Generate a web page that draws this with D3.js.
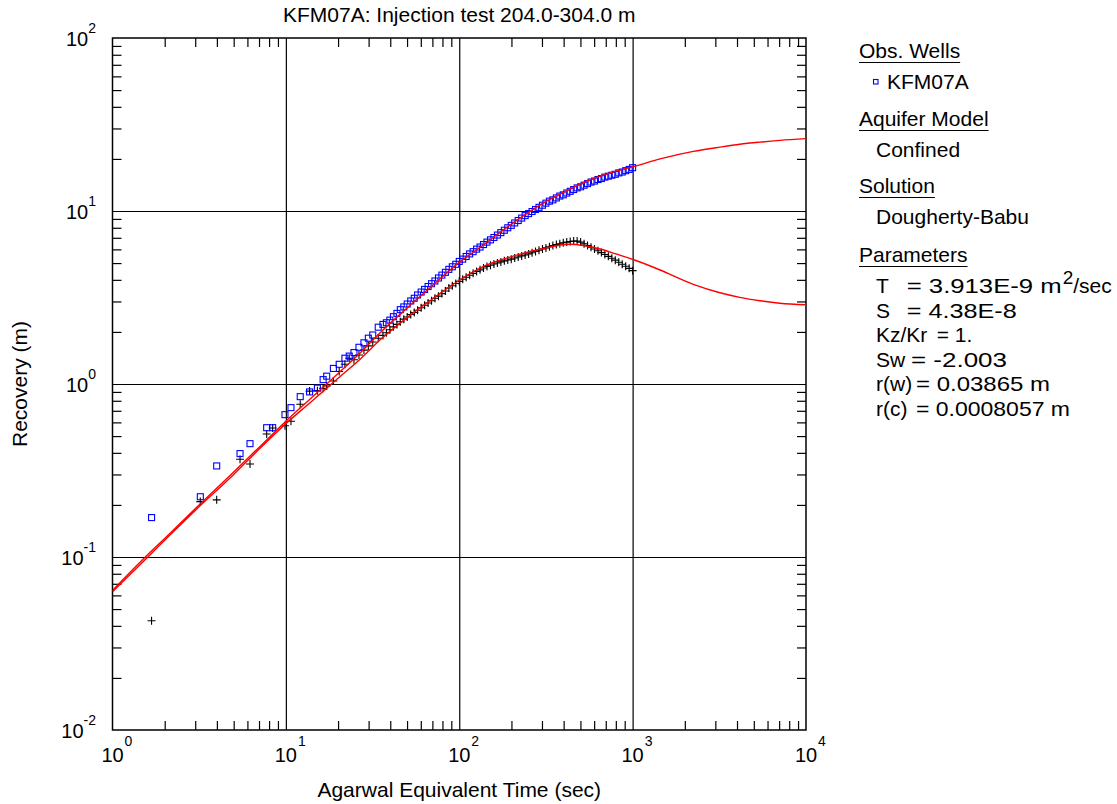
<!DOCTYPE html>
<meta charset="utf-8">
<title>KFM07A recovery</title>
<style>
    body { margin: 0; background: #fff; }
    svg text { font-family: Arial, "Liberation Sans", sans-serif; fill: #000; }
</style>
<body>
<script src="https://d3js.org/d3.v7.min.js"></script>
<script>
    var width = 1117, height = 804;

    // observed data, time (sec)
    var timeSec = [1.68, 3.21, 3.99, 5.44, 6.21, 7.75, 8.39, 9.88, 10.7, 12.1, 13.7, 15.2, 16.4, 17.2, 18.8,
        20.3, 21.9, 23.2, 24.7, 26.4, 28.2, 29.9, 31.7, 34.1,
        36.3, 38.0, 39.8, 41.7, 43.7, 45.7, 47.9, 50.1, 52.5, 55.0, 57.5, 60.3, 63.1, 66.1, 69.2, 72.4,
        75.9, 79.4, 83.2, 87.1, 91.2, 95.5, 100, 104.7, 109.6, 114.8, 120.2, 125.9, 131.8, 138.0, 144.5,
        151.4, 158.5, 166.0, 173.8, 182.0, 190.5, 199.5, 208.9, 218.8, 229.1, 239.9, 251.2, 263.0, 275.4,
        288.4, 302.0, 316.2, 331.1, 346.7, 363.1, 380.2, 398.1, 416.9, 436.5, 457.1, 478.6, 501.2, 524.8,
        549.5, 575.4, 602.6, 631.0, 660.7, 691.8, 724.4, 758.6, 794.3, 831.8, 871.0, 912.0, 955.0, 1000];

    // recovery (m), blue squares
    var recovery = [0.169, 0.223, 0.336, 0.396, 0.452, 0.559, 0.559, 0.665, 0.730, 0.845, 0.90, 0.946, 1.06, 1.11, 1.23,
        1.30, 1.41, 1.45, 1.52, 1.63, 1.73, 1.84, 1.92, 2.13,
        2.21, 2.26, 2.34, 2.45, 2.56, 2.69, 2.79, 2.90, 3.02, 3.13, 3.27, 3.40, 3.52, 3.66, 3.80, 3.94,
        4.10, 4.26, 4.42, 4.60, 4.76, 4.92, 5.11, 5.27, 5.46, 5.65, 5.82, 6.02, 6.19, 6.40, 6.61,
        6.81, 7.03, 7.26, 7.50, 7.74, 8.00, 8.26, 8.53, 8.81, 9.10, 9.40, 9.66, 9.93, 10.2,
        10.5, 10.8, 11.1, 11.4, 11.6, 11.9, 12.2, 12.4, 12.7, 13.0, 13.3, 13.6, 13.8, 14.1,
        14.4, 14.7, 14.9, 15.2, 15.4, 15.7, 15.9, 16.1, 16.3, 16.6, 16.8, 17.1, 17.4, 17.8];

    // recovery derivative (m), black crosses
    var derivative = [0.0428, 0.209, 0.214, 0.367, 0.345, 0.514, 0.557, 0.574, 0.609, 0.763, 0.91, 0.915, 0.944, 0.974, 1.04,
        1.18, 1.30, 1.41, 1.38, 1.47, 1.57, 1.66, 1.75, 1.84,
        1.91, 1.98, 2.06, 2.14, 2.21, 2.29, 2.37, 2.44, 2.52, 2.59, 2.67, 2.76, 2.85, 2.94, 3.03, 3.13,
        3.22, 3.33, 3.45, 3.59, 3.70, 3.81, 3.92, 4.03, 4.14, 4.25, 4.36, 4.47, 4.57, 4.68, 4.78,
        4.86, 4.94, 5.01, 5.08, 5.15, 5.21, 5.27, 5.35, 5.42, 5.50, 5.57, 5.65, 5.74, 5.83,
        5.93, 6.03, 6.12, 6.21, 6.31, 6.40, 6.47, 6.55, 6.61, 6.67, 6.71, 6.70, 6.61, 6.46,
        6.31, 6.17, 6.03, 5.89, 5.75, 5.61, 5.47, 5.33, 5.20, 5.06, 4.92, 4.79, 4.66, 4.52];

    // Dougherty-Babu fit
    var modelTime = [1, 1.5, 2, 3, 5, 7, 10, 14, 20, 27, 35, 50, 70, 100, 140, 200, 300, 435, 520, 650,
        800, 1000, 1440, 2240, 3190, 4150, 5420, 7060, 10000];
    var modelRecovery = [0.064, 0.097, 0.128, 0.19, 0.31, 0.43, 0.61, 0.83, 1.15, 1.52, 1.98, 2.75, 3.7, 5.05, 6.45,
        8.4, 11.0, 13.4, 14.6, 15.9, 17.0, 18.0, 20.0, 22.1, 23.4, 24.3, 25.0, 25.6, 26.2];
    var modelDerivative = [0.063, 0.094, 0.125, 0.186, 0.30, 0.42, 0.59, 0.79, 1.08, 1.40, 1.80, 2.42, 3.1, 3.98, 4.82,
        5.45, 6.05, 6.42, 6.32, 6.03, 5.65, 5.26, 4.56, 3.77, 3.37, 3.17, 3.03, 2.93, 2.87];

    var xDecades = [0, 1, 2, 3, 4];
    var yDecades = [-2, -1, 0, 1, 2];

    var paramLabels = ["T", "S", "Kz/Kr", "Sw", "r(w)", "r(c)"];
    var paramValues = ["= 3.913E-9 m", "= 4.38E-8", "= 1.", "= -2.003", "= 0.03865 m", "= 0.0008057 m"];

    // plot box (top/left are window props in browsers, so use other names)
    var pL = 112.5, pR = 806, pT = 38, pB = 730;

    var x = d3.scaleLog().domain([1, 1e4]).range([pL, pR]);
    var y = d3.scaleLog().domain([0.01, 100]).range([pB, pT]);

    var svg = d3.select("body").append("svg")
        .attr("width", width)
        .attr("height", height);

    // minor ticks at 2..9 of every decade
    var xMinor = [], yMinor = [];
    xDecades.slice(0, -1).forEach(function(e) {
        for (var k = 2; k < 10; k++) xMinor.push(k * Math.pow(10, e));
    });
    yDecades.slice(0, -1).forEach(function(e) {
        for (var k = 2; k < 10; k++) yMinor.push(k * Math.pow(10, e));
    });
    var xMajor = xDecades.map(function(e) { return Math.pow(10, e); });
    var yMajor = yDecades.map(function(e) { return Math.pow(10, e); });

    // grid
    svg.append("g")
        .attr("transform", "translate(0," + pB + ")")
        .call(d3.axisBottom(x).tickValues(xMajor.slice(1, -1)).tickSize(-(pB - pT)).tickFormat(""))
        .call(function(g) { g.select(".domain").remove(); })
        .selectAll("line").attr("stroke", "#000").attr("stroke-width", 1.2);
    svg.append("g")
        .attr("transform", "translate(" + pL + ",0)")
        .call(d3.axisLeft(y).tickValues(yMajor.slice(1, -1)).tickSize(-(pR - pL)).tickFormat(""))
        .call(function(g) { g.select(".domain").remove(); })
        .selectAll("line").attr("stroke", "#000").attr("stroke-width", 1.2);

    // inward minor ticks on all four sides
    var tick = 9;
    [[d3.axisBottom(x).tickValues(xMinor), "translate(0," + pB + ")"],
     [d3.axisTop(x).tickValues(xMinor), "translate(0," + pT + ")"],
     [d3.axisLeft(y).tickValues(yMinor), "translate(" + pL + ",0)"],
     [d3.axisRight(y).tickValues(yMinor), "translate(" + pR + ",0)"]].forEach(function(a) {
        svg.append("g")
            .attr("transform", a[1])
            .call(a[0].tickSize(-tick).tickFormat(""))
            .call(function(g) { g.select(".domain").remove(); })
            .selectAll("line").attr("stroke", "#000").attr("stroke-width", 1.2);
    });

    // frame
    svg.append("rect")
        .attr("x", pL).attr("y", pT)
        .attr("width", pR - pL).attr("height", pB - pT)
        .attr("fill", "none").attr("stroke", "#000").attr("stroke-width", 1.5);

    // tick labels
    var xl = svg.append("g").selectAll("g").data(xDecades).enter().append("g");
    xl.append("text")
        .attr("x", function(d) { return x(Math.pow(10, d)); })
        .attr("y", 762)
        .attr("text-anchor", "middle")
        .style("font-size", "20px")
        .text("10");
    xl.append("text")
        .attr("x", function(d) { return x(Math.pow(10, d)) + 12; })
        .attr("y", 746)
        .style("font-size", "14px")
        .text(function(d) { return d; });

    var yl = svg.append("g").selectAll("text").data(yDecades).enter().append("text")
        .attr("x", 96)
        .attr("y", function(d) { return y(Math.pow(10, d)) + 8; })
        .attr("text-anchor", "end")
        .style("font-size", "20px");
    yl.append("tspan").text("10");
    yl.append("tspan")
        .attr("dy", -13)
        .style("font-size", "14px")
        .text(function(d) { return d; });

    // titles
    svg.append("text")
        .attr("x", (pL + pR) / 2).attr("y", 22)
        .attr("text-anchor", "middle")
        .style("font-size", "21px")
        .text("KFM07A: Injection test 204.0-304.0 m");
    svg.append("text")
        .attr("x", (pL + pR) / 2).attr("y", 797)
        .attr("text-anchor", "middle")
        .style("font-size", "21px")
        .text("Agarwal Equivalent Time (sec)");
    svg.append("text")
        .attr("transform", "translate(27," + ((pT + pB) / 2) + ") rotate(-90)")
        .attr("text-anchor", "middle")
        .style("font-size", "21px")
        .text("Recovery (m)");

    // plot contents clipped to frame
    svg.append("clipPath").attr("id", "clip")
        .append("rect").attr("x", pL).attr("y", pT)
        .attr("width", pR - pL).attr("height", pB - pT);
    var plot = svg.append("g").attr("clip-path", "url(#clip)");

    var line = d3.line()
        .x(function(d) { return x(d[0]); })
        .y(function(d) { return y(d[1]); })
        .curve(d3.curveMonotoneX);

    var obs = timeSec.map(function(t, i) { return { t: t, s: recovery[i], ds: derivative[i] }; });

    // black crosses
    plot.append("g").selectAll("path").data(obs).enter().append("path")
        .attr("d", function(d) {
            var cx = x(d.t), cy = y(d.ds);
            return "M" + (cx - 4) + "," + cy + "H" + (cx + 4) + "M" + cx + "," + (cy - 4) + "V" + (cy + 4);
        })
        .attr("stroke", "#000").attr("stroke-width", 1.1).attr("fill", "none");

    // blue squares
    plot.append("g").selectAll("rect").data(obs).enter().append("rect")
        .attr("x", function(d) { return x(d.t) - 3; })
        .attr("y", function(d) { return y(d.s) - 3; })
        .attr("width", 6).attr("height", 6)
        .attr("fill", "none").attr("stroke", "#0000ff").attr("stroke-width", 1.1);

    // fitted curves
    plot.append("path")
        .datum(modelTime.map(function(t, i) { return [t, modelRecovery[i]]; }))
        .attr("d", line)
        .attr("fill", "none").attr("stroke", "#ff0000").attr("stroke-width", 1.4);
    plot.append("path")
        .datum(modelTime.map(function(t, i) { return [t, modelDerivative[i]]; }))
        .attr("d", line)
        .attr("fill", "none").attr("stroke", "#ff0000").attr("stroke-width", 1.4);

    // legend panel
    var lg = svg.append("g").style("font-size", "21px");
    function heading(txt, yy) {
        var t = lg.append("text").attr("x", 859).attr("y", yy).text(txt);
        var w = t.node().getComputedTextLength();
        lg.append("line").attr("x1", 859).attr("x2", 859 + w)
            .attr("y1", yy + 4.5).attr("y2", yy + 4.5)
            .attr("stroke", "#000").attr("stroke-width", 1.2);
    }
    heading("Obs. Wells", 58);
    lg.append("rect").attr("x", 873.5).attr("y", 79.5).attr("width", 4.5).attr("height", 4.5)
        .attr("fill", "none").attr("stroke", "#0000ff").attr("stroke-width", 1.1);
    lg.append("text").attr("x", 887).attr("y", 89).text("KFM07A");
    heading("Aquifer Model", 126);
    lg.append("text").attr("x", 876).attr("y", 157).text("Confined");
    heading("Solution", 193);
    lg.append("text").attr("x", 876).attr("y", 224).text("Dougherty-Babu");
    heading("Parameters", 262);

    // value column start and (stretched) width as in the reference
    var valueX = [906.7, 906.7, 936.7, 911, 916, 916];
    var valueW = [155, 110, 0, 96, 134, 154];
    paramLabels.forEach(function(p, i) {
        var yy = 293 + i * 24.6;
        lg.append("text").attr("x", 876).attr("y", yy).text(p);
        var v = lg.append("text").attr("x", valueX[i]).attr("y", yy).text(paramValues[i]);
        if (valueW[i]) v.attr("textLength", valueW[i]).attr("lengthAdjust", "spacingAndGlyphs");
        if (i === 0) {
            var t2 = lg.append("text").attr("x", valueX[i] + valueW[i] + 1).attr("y", yy);
            t2.append("tspan").attr("dy", -9).style("font-size", "19px").text("2");
            t2.append("tspan").attr("dy", 9).text("/sec");
        }
    });
</script>
</body>
